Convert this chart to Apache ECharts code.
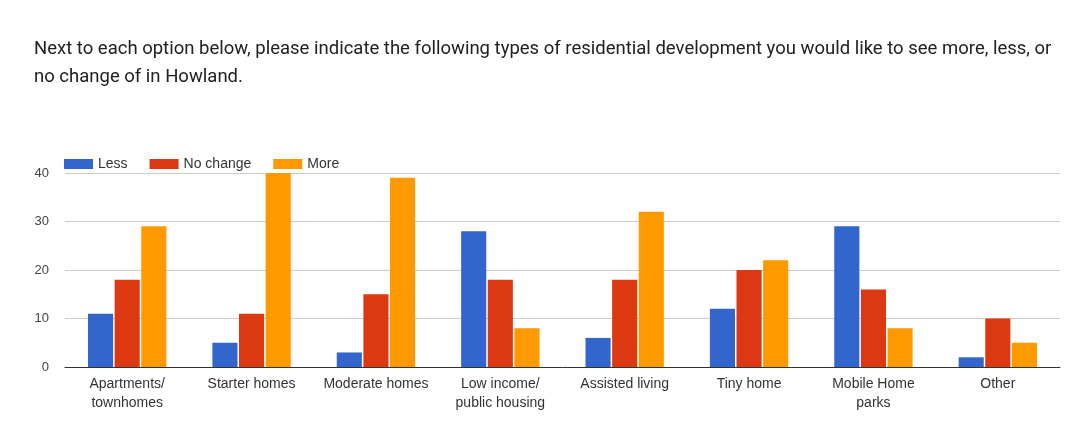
<!DOCTYPE html>
<html>
<head>
<meta charset="utf-8">
<script src="https://cdn.jsdelivr.net/npm/echarts@6/dist/echarts.min.js"></script>
<style>
  html, body { margin: 0; padding: 0; background: #fff; }
  #chart { width: 1074px; height: 445px; }
</style>
</head>
<body>
<div id="chart"></div>
<script>
// Survey responses per housing type
const categories = [
  'Apartments/\ntownhomes', 'Starter homes', 'Moderate homes', 'Low income/\npublic housing',
  'Assisted living', 'Tiny home', 'Mobile Home\nparks', 'Other'
];
const lessValues     = [11, 5, 3, 28, 6, 12, 29, 2];
const noChangeValues = [18, 11, 15, 18, 18, 20, 16, 10];
const moreValues     = [29, 40, 39, 8, 32, 22, 8, 5];
const yTicks = [0, 10, 20, 30, 40];

const titleText = 'Next to each option below, please indicate the following types of residential development you would like to see more, less, or\nno change of in Howland.';

const labelFont = 'Liberation Sans, Arial, sans-serif';

const chart = echarts.init(document.getElementById('chart'));
chart.setOption({
  animation: false,
  title: {
    text: titleText,
    left: 29,
    top: 30,
    textStyle: {
      fontFamily: 'Roboto', fontSize: 18.5, fontWeight: 'normal',
      color: '#202124', lineHeight: 28
    }
  },
  legend: {
    left: 59,
    top: 152,
    itemWidth: 29,
    itemHeight: 10,
    itemGap: 22,
    icon: 'rect',
    textStyle: { fontFamily: labelFont, fontSize: 14, color: '#333' },
    data: ['Less', 'No change', 'More']
  },
  grid: { left: 65, right: 14, top: 173, bottom: 78 },
  xAxis: {
    type: 'category',
    data: categories,
    axisTick: { show: false },
    axisLine: { lineStyle: { color: '#333', width: 1 } },
    axisLabel: {
      fontFamily: labelFont, fontSize: 14, color: '#333',
      margin: 8, lineHeight: 19, interval: 0
    }
  },
  yAxis: {
    type: 'value',
    min: yTicks[0],
    max: yTicks[yTicks.length - 1],
    interval: 10,
    axisLine: { show: false },
    axisTick: { show: false },
    axisLabel: { fontFamily: labelFont, fontSize: 13, color: '#444', margin: 16 },
    splitLine: { lineStyle: { color: '#ccc' } }
  },
  series: [
    { name: 'Less', type: 'bar', data: lessValues, itemStyle: { color: '#3366cc' }, barGap: '6%', barCategoryGap: '37%' },
    { name: 'No change', type: 'bar', data: noChangeValues, itemStyle: { color: '#dc3912' } },
    { name: 'More', type: 'bar', data: moreValues, itemStyle: { color: '#ff9900' } }
  ]
});
</script>
</body>
</html>
